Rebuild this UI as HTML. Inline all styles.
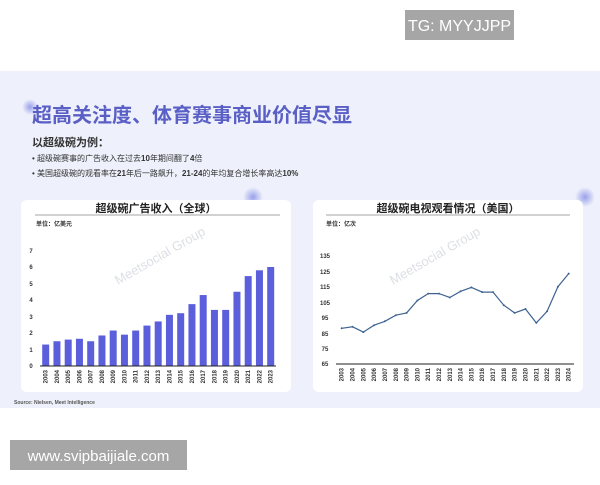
<!DOCTYPE html>
<html><head><meta charset="utf-8"><style>
body{margin:0;width:600px;height:480px;background:#fff;overflow:hidden;font-family:"Liberation Sans","Noto Sans CJK SC",sans-serif;}
</style></head><body>
<svg width="600" height="480" xmlns="http://www.w3.org/2000/svg" font-family="Liberation Sans, Noto Sans CJK SC, sans-serif">
<defs><radialGradient id="bl" cx="0.5" cy="0.5" r="0.5"><stop offset="0" stop-color="#9aa0ea"/><stop offset="1" stop-color="#eef1fb"/></radialGradient></defs>
<rect x="0" y="0" width="600" height="480" fill="#fff"/>
<rect x="405" y="10" width="109" height="30" fill="#a6a6a6"/>
<text x="459.5" y="31" font-size="16" fill="#fff" text-anchor="middle">TG: MYYJJPP</text>
<rect x="0" y="71" width="600" height="337" fill="#eef1fb"/>
<circle cx="30" cy="107" r="8" fill="url(#bl)"/>
<text x="32" y="122" font-size="20" font-weight="bold" fill="#5a5fc6" textLength="320">超高关注度、体育赛事商业价值尽显</text>
<text x="32" y="146" font-size="11" font-weight="bold" fill="#333">以超级碗为例：</text>
<text x="32" y="161" font-size="8" fill="#333">•   超级碗赛事的广告收入在过去<tspan font-weight="bold">10</tspan>年期间翻了<tspan font-weight="bold">4</tspan>倍</text>
<text x="32" y="176" font-size="8" fill="#333">•   美国超级碗的观看率在<tspan font-weight="bold">21</tspan>年后一路飙升，<tspan font-weight="bold">21-24</tspan>的年均复合增长率高达<tspan font-weight="bold">10%</tspan></text>
<circle cx="253" cy="197" r="10" fill="url(#bl)"/>
<circle cx="585" cy="197" r="10" fill="url(#bl)"/>
<rect x="21" y="200" width="270" height="192" rx="6" fill="#fff"/>
<rect x="313" y="200" width="270" height="192" rx="6" fill="#fff"/>
<text x="156" y="212" font-size="11" font-weight="bold" fill="#222" text-anchor="middle">超级碗广告收入（全球）</text>
<line x1="35" y1="215" x2="280" y2="215" stroke="#888" stroke-width="0.8"/>
<text x="36" y="226" font-size="6" font-weight="bold" fill="#333">单位：亿美元</text>
<g font-size="6" font-weight="bold" fill="#333" text-anchor="middle">
<text x="31" y="368">0</text><text x="31" y="352">1</text><text x="31" y="335">2</text><text x="31" y="319">3</text><text x="31" y="302">4</text><text x="31" y="286">5</text><text x="31" y="269">6</text><text x="31" y="253">7</text></g>
<g fill="#d0d2dc" font-size="13" opacity="0.7">
<text transform="translate(118,285) rotate(-30)">Meetsocial Group</text>
<text transform="translate(393,285) rotate(-30)">Meetsocial Group</text></g>
<g transform="translate(0,366) scale(1,-16.5)" fill="#5c5fdc">
<rect x="42.2" y="0" width="7" height="1.3"/><rect x="53.45" y="0" width="7" height="1.5"/><rect x="64.7" y="0" width="7" height="1.6"/><rect x="75.95" y="0" width="7" height="1.65"/><rect x="87.2" y="0" width="7" height="1.5"/><rect x="98.45" y="0" width="7" height="1.85"/><rect x="109.7" y="0" width="7" height="2.15"/><rect x="120.95" y="0" width="7" height="1.9"/><rect x="132.2" y="0" width="7" height="2.15"/><rect x="143.45" y="0" width="7" height="2.45"/><rect x="154.7" y="0" width="7" height="2.7"/><rect x="165.95" y="0" width="7" height="3.1"/><rect x="177.2" y="0" width="7" height="3.2"/><rect x="188.45" y="0" width="7" height="3.75"/><rect x="199.7" y="0" width="7" height="4.3"/><rect x="210.95" y="0" width="7" height="3.4"/><rect x="222.2" y="0" width="7" height="3.4"/><rect x="233.45" y="0" width="7" height="4.5"/><rect x="244.7" y="0" width="7" height="5.45"/><rect x="255.95" y="0" width="7" height="5.8"/><rect x="267.2" y="0" width="7" height="6.0"/>
</g>
<line x1="40" y1="366" x2="276" y2="366" stroke="#222" stroke-width="1"/>
<g font-size="6" font-weight="bold" fill="#333" text-anchor="end">
<text transform="translate(47.7,370) rotate(-90)">2003</text><text transform="translate(58.95,370) rotate(-90)">2004</text><text transform="translate(70.2,370) rotate(-90)">2005</text><text transform="translate(81.45,370) rotate(-90)">2006</text><text transform="translate(92.7,370) rotate(-90)">2007</text><text transform="translate(103.95,370) rotate(-90)">2008</text><text transform="translate(115.2,370) rotate(-90)">2009</text><text transform="translate(126.45,370) rotate(-90)">2010</text><text transform="translate(137.7,370) rotate(-90)">2011</text><text transform="translate(148.95,370) rotate(-90)">2012</text><text transform="translate(160.2,370) rotate(-90)">2013</text><text transform="translate(171.45,370) rotate(-90)">2014</text><text transform="translate(182.7,370) rotate(-90)">2015</text><text transform="translate(193.95,370) rotate(-90)">2016</text><text transform="translate(205.2,370) rotate(-90)">2017</text><text transform="translate(216.45,370) rotate(-90)">2018</text><text transform="translate(227.7,370) rotate(-90)">2019</text><text transform="translate(238.95,370) rotate(-90)">2020</text><text transform="translate(250.2,370) rotate(-90)">2021</text><text transform="translate(261.45,370) rotate(-90)">2022</text><text transform="translate(272.7,370) rotate(-90)">2023</text></g>
<text x="14" y="404" font-size="5" font-weight="bold" fill="#555">Source: Nielsen, Meet Intelligence</text>
<text x="448" y="212" font-size="11" font-weight="bold" fill="#222" text-anchor="middle">超级碗电视观看情况（美国）</text>
<line x1="326" y1="215" x2="570" y2="215" stroke="#888" stroke-width="0.8"/>
<text x="326" y="226" font-size="6" font-weight="bold" fill="#333">单位：亿次</text>
<g font-size="6" font-weight="bold" fill="#333" text-anchor="middle">
<text x="325" y="366">65</text><text x="325" y="351">75</text><text x="325" y="336">85</text><text x="325" y="320">95</text><text x="325" y="305">105</text><text x="325" y="289">115</text><text x="325" y="274">125</text><text x="325" y="258">135</text></g>
<line x1="336" y1="364" x2="574" y2="364" stroke="#222" stroke-width="1"/>
<polyline fill="none" stroke="#3f6491" stroke-width="1.2" points="341.7,328.3 352.5,326.8 363.3,332.1 374.1,325.2 384.9,321.3 395.8,315.2 406.6,312.9 417.4,300.5 428.2,293.6 439.0,293.6 449.8,297.5 460.6,291.3 471.4,287.4 482.2,292.1 493.0,292.1 503.8,305.2 514.6,312.9 525.5,309.0 536.3,322.9 547.1,311.3 557.9,286.7 568.7,273.6"/>
<g fill="#3f6491"><circle cx="341.7" cy="328.3" r="1"/><circle cx="352.5" cy="326.8" r="1"/><circle cx="363.3" cy="332.1" r="1"/><circle cx="374.1" cy="325.2" r="1"/><circle cx="384.9" cy="321.3" r="1"/><circle cx="395.8" cy="315.2" r="1"/><circle cx="406.6" cy="312.9" r="1"/><circle cx="417.4" cy="300.5" r="1"/><circle cx="428.2" cy="293.6" r="1"/><circle cx="439.0" cy="293.6" r="1"/><circle cx="449.8" cy="297.5" r="1"/><circle cx="460.6" cy="291.3" r="1"/><circle cx="471.4" cy="287.4" r="1"/><circle cx="482.2" cy="292.1" r="1"/><circle cx="493.0" cy="292.1" r="1"/><circle cx="503.8" cy="305.2" r="1"/><circle cx="514.6" cy="312.9" r="1"/><circle cx="525.5" cy="309.0" r="1"/><circle cx="536.3" cy="322.9" r="1"/><circle cx="547.1" cy="311.3" r="1"/><circle cx="557.9" cy="286.7" r="1"/><circle cx="568.7" cy="273.6" r="1"/></g>
<g font-size="6" font-weight="bold" fill="#333" text-anchor="end">
<text transform="translate(343.7,368) rotate(-90)">2003</text><text transform="translate(354.5,368) rotate(-90)">2004</text><text transform="translate(365.3,368) rotate(-90)">2005</text><text transform="translate(376.1,368) rotate(-90)">2006</text><text transform="translate(386.9,368) rotate(-90)">2007</text><text transform="translate(397.8,368) rotate(-90)">2008</text><text transform="translate(408.6,368) rotate(-90)">2009</text><text transform="translate(419.4,368) rotate(-90)">2010</text><text transform="translate(430.2,368) rotate(-90)">2011</text><text transform="translate(441.0,368) rotate(-90)">2012</text><text transform="translate(451.8,368) rotate(-90)">2013</text><text transform="translate(462.6,368) rotate(-90)">2014</text><text transform="translate(473.4,368) rotate(-90)">2015</text><text transform="translate(484.2,368) rotate(-90)">2016</text><text transform="translate(495.0,368) rotate(-90)">2017</text><text transform="translate(505.8,368) rotate(-90)">2018</text><text transform="translate(516.6,368) rotate(-90)">2019</text><text transform="translate(527.5,368) rotate(-90)">2020</text><text transform="translate(538.3,368) rotate(-90)">2021</text><text transform="translate(549.1,368) rotate(-90)">2022</text><text transform="translate(559.9,368) rotate(-90)">2023</text><text transform="translate(570.7,368) rotate(-90)">2024</text></g>
<rect x="10" y="440" width="177" height="30" fill="#a6a6a6"/>
<text x="98.5" y="461" font-size="15" fill="#fff" text-anchor="middle">www.svipbaijiale.com</text>
</svg>
</body></html>
